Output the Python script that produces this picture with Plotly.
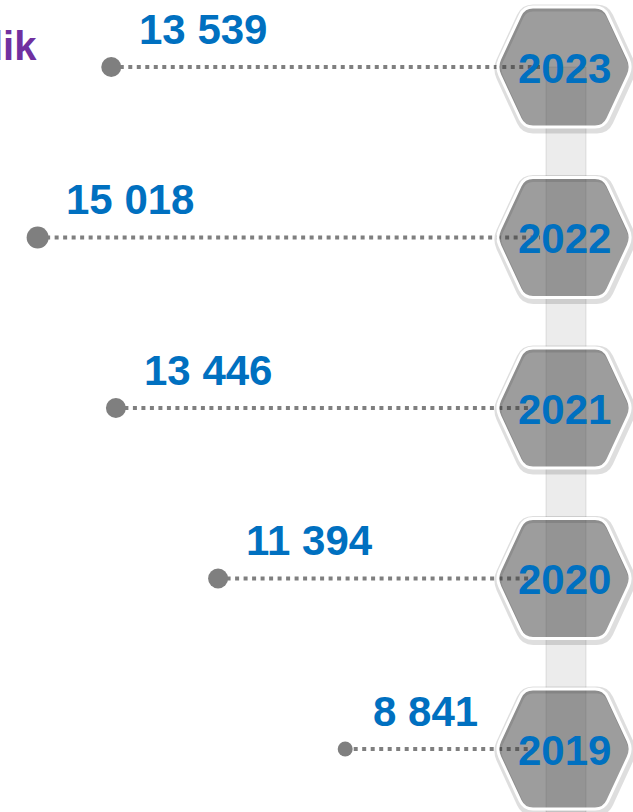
import plotly.graph_objects as go

# ---- data ----
YEARS = [2023, 2022, 2021, 2020, 2019]
VALUES = [13539, 15018, 13446, 11394, 8841]
YEAR_LABELS = ["2023", "2022", "2021", "2020", "2019"]
TITLE_FRAGMENT = "lik"

# ---- styles / layout ----
W, H = 633, 812
X_RANGE = [15774, 3061]          # reversed value axis
Y_RANGE = [2018.6305, 2023.393]
PPY = H / (Y_RANGE[1] - Y_RANGE[0])   # pixels per year
BLUE = "#0070C0"
PURPLE = "#7030A0"
GREY = "#7f7f7f"
FONT = "Liberation Sans, Arial, sans-serif"
MARKER_SIZES = [20, 22, 20, 20, 15]
HEX_CX = 564
LINE_END_PX = 540


def px_to_val(p):
    return X_RANGE[0] + (X_RANGE[1] - X_RANGE[0]) * p / W


def hex_path(year, cx=HEX_CX, w=68, t=40, h=60, r=9, dx0=0, dy0=0):
    verts = [(-w, 0), (-t, -h), (t, -h), (w, 0), (t, h), (-t, h)]

    def conv(dx, dy):
        return f"{(cx + dx + dx0) / W:.5f},{year - (dy + dy0) / PPY:.5f}"

    parts = []
    n = len(verts)
    for i, (vx, vy) in enumerate(verts):
        px_, py_ = verts[i - 1]
        nx_, ny_ = verts[(i + 1) % n]
        lp = ((px_ - vx) ** 2 + (py_ - vy) ** 2) ** 0.5
        ln = ((nx_ - vx) ** 2 + (ny_ - vy) ** 2) ** 0.5
        ax, ay = vx + r * (px_ - vx) / lp, vy + r * (py_ - vy) / lp
        bx, by = vx + r * (nx_ - vx) / ln, vy + r * (ny_ - vy) / ln
        parts.append(("M " if i == 0 else "L ") + conv(ax, ay))
        parts.append("Q " + conv(vx, vy) + " " + conv(bx, by))
    return " ".join(parts) + " Z"


fig = go.Figure()

# dotted connector lines
line_end = px_to_val(LINE_END_PX)
for yr, v in zip(YEARS, VALUES):
    fig.add_trace(go.Scatter(
        x=[v, line_end], y=[yr, yr], mode="lines",
        line=dict(color=GREY, width=4, dash="4px,4.5px"),
        hoverinfo="skip", showlegend=False,
    ))

# dots
fig.add_trace(go.Scatter(
    x=VALUES, y=YEARS, mode="markers",
    marker=dict(color=GREY, size=MARKER_SIZES, opacity=1, line=dict(width=0)),
    showlegend=False,
))

shapes = []
# vertical light bar behind hexagons
shapes.append(dict(
    type="rect", xref="paper", yref="y",
    x0=546 / W, x1=586 / W, y0=Y_RANGE[0], y1=YEARS[0],
    fillcolor="#ececec", line=dict(color="rgba(0,0,0,0.10)", width=1),
    layer="below",
))
for yr in YEARS:
    # soft shadow
    shapes.append(dict(
        type="path", xref="paper", yref="y",
        path=hex_path(yr, w=69, t=41, h=61, dx0=1, dy0=2),
        fillcolor="rgba(0,0,0,0)", line=dict(color="rgba(0,0,0,0.13)", width=7),
        layer="above",
    ))
    shapes.append(dict(
        type="path", xref="paper", yref="y", path=hex_path(yr),
        fillcolor="rgba(60,60,60,0.5)", line=dict(color="white", width=3),
        layer="above",
    ))

annotations = []
for yr, v, lab in zip(YEARS, VALUES, YEAR_LABELS):
    annotations.append(dict(
        x=v, y=yr, xref="x", yref="y",
        text=f"{v:,}".replace(",", " "),
        showarrow=False, xanchor="left", yanchor="middle",
        xshift=26, yshift=38,
        font=dict(family=FONT, size=42, color=BLUE, weight="bold"),
    ))
    annotations.append(dict(
        x=HEX_CX / W, y=yr, xref="paper", yref="y",
        text=lab, showarrow=False, xanchor="center", yanchor="middle",
        yshift=-1,
        font=dict(family=FONT, size=42, color=BLUE, weight="bold"),
    ))

annotations.append(dict(
    x=39 / W, y=1 - 46 / H, xref="paper", yref="paper",
    text=TITLE_FRAGMENT, showarrow=False, xanchor="right", yanchor="middle",
    font=dict(family=FONT, size=40, color=PURPLE, weight="bold"),
))

fig.update_layout(
    width=W, height=H,
    margin=dict(l=0, r=0, t=0, b=0),
    paper_bgcolor="white", plot_bgcolor="white",
    xaxis=dict(range=X_RANGE, visible=False, fixedrange=True),
    yaxis=dict(range=Y_RANGE, visible=False, fixedrange=True),
    shapes=shapes, annotations=annotations,
    showlegend=False,
)

fig.write_html(
    "out.html",
    config={"displayModeBar": False},
    post_script="document.body.style.margin='0';document.body.style.overflow='hidden';",
)
